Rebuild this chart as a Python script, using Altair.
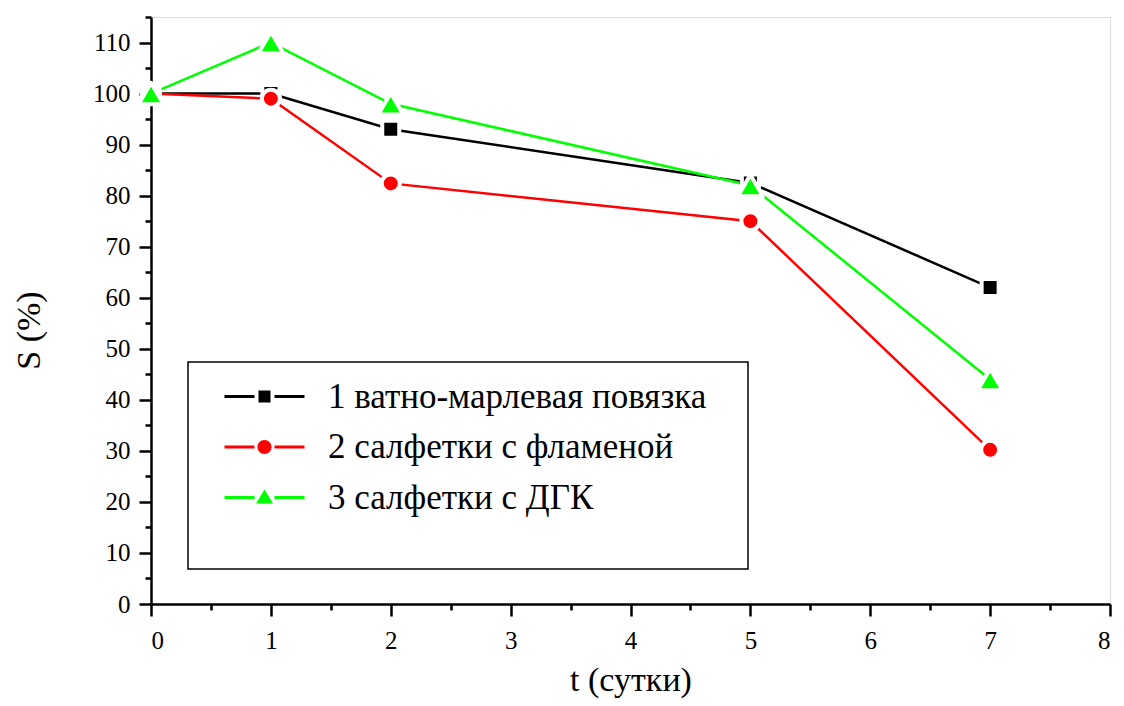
import altair as alt
import pandas as pd

# ---- data ----
days = [0, 1, 2, 5, 7]
s1 = [100.0, 100.0, 93.0, 82.5, 62.0]   # 1 ватно-марлевая повязка
s2 = [100.0, 99.0, 82.4, 75.0, 30.2]    # 2 салфетки с фламеной
s3 = [100.0, 110.0, 98.0, 82.0, 44.0]   # 3 салфетки с ДГК
names = ["1 ватно-марлевая повязка", "2 салфетки с фламеной", "3 салфетки с ДГК"]
colors = ["#000000", "#FF0000", "#00FF00"]
marker_shapes = ["square", "circle", "triangle-up"]
marker_sizes = [289, 324, 620]

x_major = [0, 1, 2, 3, 4, 5, 6, 7, 8]
x_minor = [0.5, 1.5, 2.5, 3.5, 4.5, 5.5, 6.5, 7.5]
y_major = [0, 10, 20, 30, 40, 50, 60, 70, 80, 90, 100, 110]
y_minor = [5, 15, 25, 35, 45, 55, 65, 75, 85, 95, 105, 115]

rows = []
for name, vals in zip(names, [s1, s2, s3]):
    for t, s in zip(days, vals):
        rows.append({"series": name, "t": t, "S": s})
df = pd.DataFrame(rows)

FONT = "Liberation Serif"
W, H = 959, 587

x_scale = alt.Scale(domain=[0, 8], nice=False, zero=False)
y_scale = alt.Scale(domain=[0, 115], nice=False, zero=False)
color_scale = alt.Scale(domain=names, range=colors)

# legend symbols: line - marker - line (unit = sqrt(symbolSize)/2 px)
legend_paths = [
    "M-4,-0.14H-1V0.14H-4Z M1,-0.14H4V0.14H1Z M-0.6,-0.6H0.6V0.6H-0.6Z",
    "M-4,-0.14H-1V0.14H-4Z M1,-0.14H4V0.14H1Z M-0.7,0A0.7,0.7,0,1,0,0.7,0A0.7,0.7,0,1,0,-0.7,0Z",
    "M-4,-0.14H-1V0.14H-4Z M1,-0.14H4V0.14H1Z M0,-0.8L0.85,0.6L-0.85,0.6Z",
]

common_axis = dict(
    domainColor="black", domainWidth=2.5, tickColor="black", tickWidth=2.5,
    labelFont=FONT, labelColor="black", grid=False,
    titleFont=FONT, titleColor="black", titleFontWeight="normal",
)

x_major_axis = alt.Axis(
    values=x_major, orient="bottom", title="t (сутки)", tickSize=12,
    labelFontSize=25, labelPadding=12, labelAngle=0, format="d",
    titleFontSize=34, titleX=W / 2, titleY=86, titleAlign="center",
    titleBaseline="alphabetic", **common_axis,
)
y_major_axis = alt.Axis(
    values=y_major, orient="left", title="S (%)", tickSize=12,
    labelFontSize=25, labelPadding=9, format="d",
    titleFontSize=34, titleX=-122, titleY=313, titleAngle=270,
    titleAlign="center", titleBaseline="middle", **common_axis,
)
x_minor_axis = alt.Axis(
    values=x_minor, orient="bottom", title=None, tickSize=6, labels=False,
    domain=False, tickColor="black", tickWidth=2.5, grid=False,
)
y_minor_axis = alt.Axis(
    values=y_minor, orient="left", title=None, tickSize=6, labels=False,
    domain=False, tickColor="black", tickWidth=2.5, grid=False,
)

legend = alt.Legend(
    orient="none", legendX=96, legendY=362, title=None, padding=0,
    labelFont=FONT, labelFontSize=35, labelColor="black", labelLimit=1000,
    labelOffset=46, symbolSize=400, symbolStrokeWidth=0, symbolOpacity=1,
    rowPadding=14.5,
)

frame = alt.Chart(alt.Data(values=[{}])).mark_rect(
    fill="white", stroke="black", strokeWidth=1.5
).encode(
    x=alt.value(37), x2=alt.value(597), y=alt.value(345), y2=alt.value(552)
)

legend_layer = alt.Chart(df).mark_point(filled=True, opacity=0).encode(
    x=alt.X("t:Q", scale=x_scale, axis=x_minor_axis),
    y=alt.Y("S:Q", scale=y_scale, axis=y_minor_axis),
    color=alt.Color("series:N", scale=color_scale, legend=legend),
    shape=alt.Shape("series:N", scale=alt.Scale(domain=names, range=legend_paths), legend=legend),
)

lines = alt.Chart(df).mark_line(strokeWidth=2.5).encode(
    x=alt.X("t:Q", scale=x_scale, axis=x_major_axis),
    y=alt.Y("S:Q", scale=y_scale, axis=y_major_axis),
    color=alt.Color("series:N", scale=color_scale, legend=None),
    detail="series:N",
    order="t:Q",
)

point_layers = []
for name, col, shp, sz in zip(names, colors, marker_shapes, marker_sizes):
    point_layers.append(
        alt.Chart(df).transform_filter(alt.datum.series == name).mark_point(
            filled=True, shape=shp, size=sz, fill=col, stroke="white",
            strokeWidth=4, opacity=1, strokeJoin="round",
        ).encode(
            x=alt.X("t:Q", scale=x_scale, axis=None),
            y=alt.Y("S:Q", scale=y_scale, axis=None),
        )
    )

chart = alt.layer(frame, legend_layer, lines, *point_layers).resolve_axis(
    x="independent", y="independent"
).properties(
    width=W, height=H,
    autosize=alt.AutoSizeParams(type="none"),
    padding={"left": 143, "top": 9, "right": 6, "bottom": 94},
).configure_view(strokeWidth=0).configure(background="white")

chart.save("out.html", embed_options={"renderer": "svg", "actions": False})
